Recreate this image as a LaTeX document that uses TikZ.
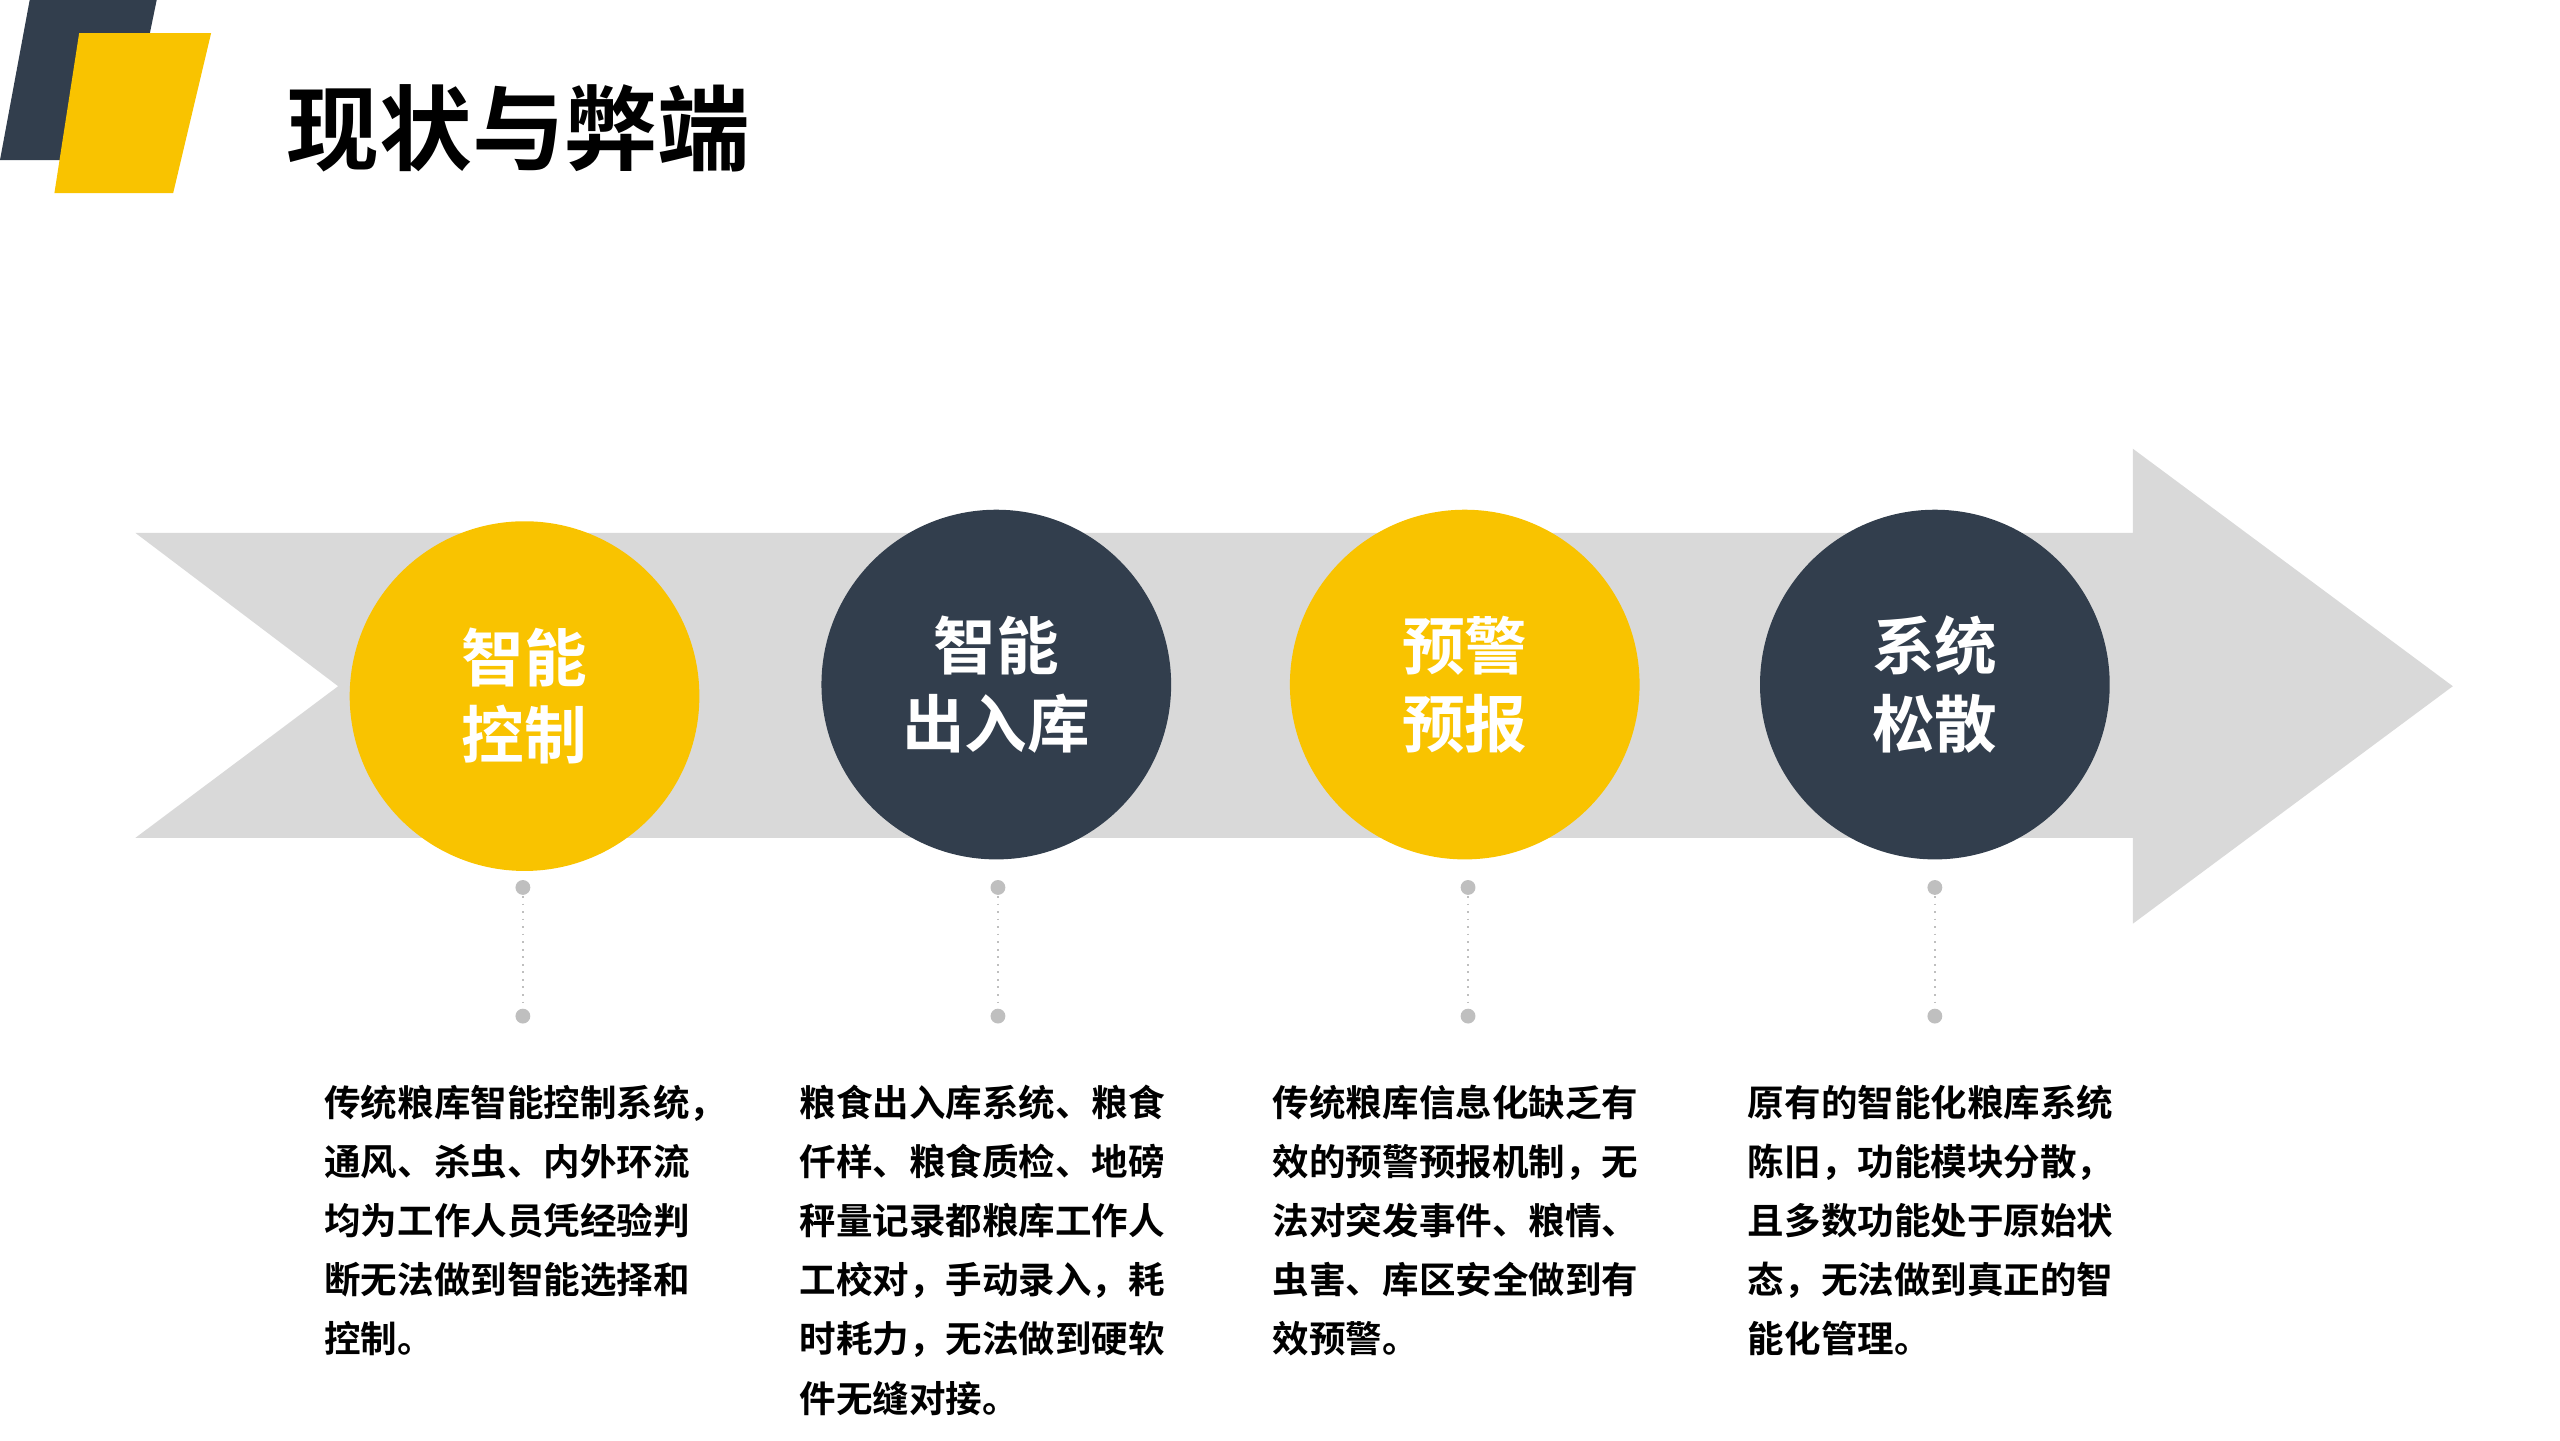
\documentclass[tikz,border=0pt]{standalone}
\usepackage{fontspec}
\setmainfont{Noto Sans CJK SC Bold}
\begin{document}
\begin{tikzpicture}[x=0.1mm,y=-0.1mm]
\definecolor{ylw}{HTML}{F9C300}
\definecolor{drk}{HTML}{323E4D}
\definecolor{arr}{HTML}{D9D9D9}
\definecolor{dotc}{HTML}{BFBFBF}
\tikzset{
  circy/.style={circle,fill=ylw,minimum size=212*0.1mm,inner sep=0,text=white,font=\fontsize{10.8pt}{13.4pt}\selectfont,align=center},
  circd/.style={circy,fill=drk},
  body/.style={anchor=north west,align=left,font=\fontsize{6.3pt}{10.2pt}\selectfont,text=black,inner sep=0},
  dotn/.style={circle,fill=dotc,minimum size=0.9mm,inner sep=0},
  conn/.style={dotc,densely dotted,line width=0.3pt}
}
\useasboundingbox (0,0) rectangle (1552,873);
\fill[drk] (18,0) -- (95,0) -- (75,97) -- (0,97) -- cycle;
\fill[ylw] (48,20) -- (128,20) -- (105,117) -- (33,117) -- cycle;
\node[anchor=west,inner sep=0,font=\fontsize{16pt}{18pt}\selectfont] (title) at (173,78) {现状与弊端};
\fill[arr] (82,323) -- (1293,323) -- (1293,272) -- (1487,416) -- (1293,560) -- (1293,508) -- (82,508) -- (205,416) -- cycle;
\node[circy] (c1) at (318,422) {智能\\控制};
\node[circd] (c2) at (604,415) {智能\\出入库};
\node[circy] (c3) at (888,415) {预警\\预报};
\node[circd] (c4) at (1173,415) {系统\\松散};
\foreach \i/\x in {1/317,2/605,3/890,4/1173}{
  \node[dotn] (a\i) at (\x,538) {};
  \node[dotn] (b\i) at (\x,616) {};
  \draw[conn] (a\i) -- (b\i);
}
\node[body] (t1) at (196,657) {传统粮库智能控制系统，\\通风、杀虫、内外环流\\均为工作人员凭经验判\\断无法做到智能选择和\\控制。};
\node[body] (t2) at (484,657) {粮食出入库系统、粮食\\仟样、粮食质检、地磅\\秤量记录都粮库工作人\\工校对，手动录入，耗\\时耗力，无法做到硬软\\件无缝对接。};
\node[body] (t3) at (771,657) {传统粮库信息化缺乏有\\效的预警预报机制，无\\法对突发事件、粮情、\\虫害、库区安全做到有\\效预警。};
\node[body] (t4) at (1059,657) {原有的智能化粮库系统\\陈旧，功能模块分散，\\且多数功能处于原始状\\态，无法做到真正的智\\能化管理。};
\end{tikzpicture}
\end{document}
